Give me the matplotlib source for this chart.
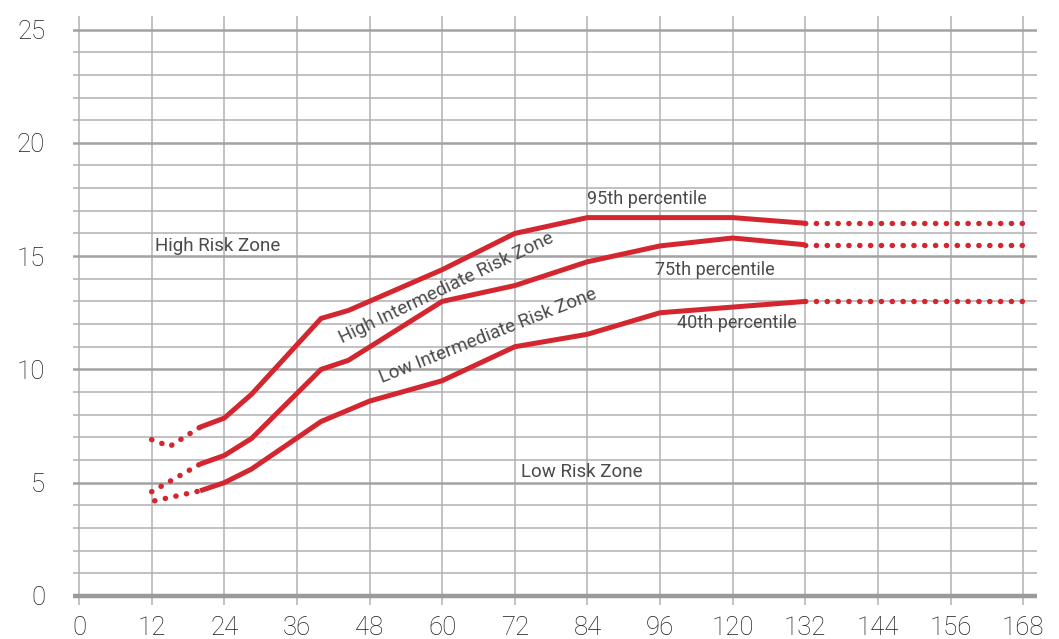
import numpy as np
import matplotlib
matplotlib.use("Agg")
import matplotlib.pyplot as plt

plt.rcParams['font.family'] = ['Roboto', 'DejaVu Sans']

# eje x: 108 no aparece, los ticks quedan equiespaciados
tick_months = [0, 12, 24, 36, 48, 60, 72, 84, 96, 120, 132, 144, 156, 168]

# curvas (meses, valor)
p95_m = [20, 24, 28.5, 40, 44.5, 60, 72, 84, 96, 120, 132]
p95_v = [7.45, 7.85, 8.9, 12.25, 12.6, 14.4, 16.0, 16.7, 16.7, 16.7, 16.45]
p95_dot_m = [12, 15, 20]
p95_dot_v = [6.9, 6.6, 7.45]

p75_m = [20, 24, 28.5, 40, 44.5, 60, 72, 84, 96, 120, 132]
p75_v = [5.82, 6.2, 6.95, 10.0, 10.4, 13.0, 13.7, 14.75, 15.45, 15.8, 15.5]
p75_dot_m = [12, 20]
p75_dot_v = [4.6, 5.82]

p40_m = [20, 24, 28.5, 40, 48, 60, 72, 84, 96, 120, 132]
p40_v = [4.64, 5.0, 5.6, 7.7, 8.6, 9.5, 11.0, 11.55, 12.5, 12.75, 13.0]
p40_dot_m = [12.5, 20]
p40_dot_v = [4.2, 4.64]

tail_m = [132, 168]   # prolongación punteada

red = "#d4262f"
txt = "#4a4a4a"


def pos(m):
    return np.interp(m, tick_months, np.arange(len(tick_months)))


fig = plt.figure(figsize=(10.59, 6.39), dpi=100)
ax = fig.add_axes([0.0689, 0.0532, 0.9103, 0.9218])

# grilla
for v in range(0, 26):
    if v == 0:
        ax.axhline(v, color="#9a9a9c", lw=3.2, zorder=1)
    elif v % 5 == 0:
        ax.axhline(v, color="#a2a2a4", lw=1.8, zorder=1)
    else:
        ax.axhline(v, color="#b0b0b2", lw=1.1, zorder=1)
for i in range(len(tick_months)):
    ax.axvline(i, color="#bdbdbf", lw=1.3, zorder=0.9)

solid = dict(color=red, lw=3.6, solid_capstyle="butt", solid_joinstyle="miter", zorder=3)
dotted = dict(color=red, lw=3.9, linestyle=(0, (0.05, 1.95)), dash_capstyle="round", zorder=3)

for m, v, dm, dv in [(p95_m, p95_v, p95_dot_m, p95_dot_v),
                     (p75_m, p75_v, p75_dot_m, p75_dot_v),
                     (p40_m, p40_v, p40_dot_m, p40_dot_v)]:
    ax.plot(pos(m), v, **solid)
    ax.plot(pos(dm), dv, **dotted)
    ax.plot(pos(tail_m), [v[-1], v[-1]], **dotted)

# textos
fs = 13.5
fp = 13
kw = dict(color=txt, fontweight="normal", va="center")
ax.text(1.05, 15.45, "High Risk Zone", fontsize=fs, ha="left", **kw)
ax.text(6.09, 5.45, "Low Risk Zone", fontsize=fs, ha="left", **kw)
ax.text(7.82, 17.5, "95th percentile", fontsize=fp, ha="center", **kw)
ax.text(7.93, 14.4, "75th percentile", fontsize=fp, ha="left", **kw)
ax.text(8.24, 12.05, "40th percentile", fontsize=fp, ha="left", **kw)
ax.text(5.06, 13.6, "High Intermediate Risk Zone", fontsize=fs, ha="center",
        rotation=25.6, rotation_mode="anchor", **kw)
ax.text(5.63, 11.5, "Low Intermediate Risk Zone", fontsize=fs, ha="center",
        rotation=21.5, rotation_mode="anchor", **kw)

ax.set_xlim(-0.083, 13.19)
ax.set_ylim(-0.4, 25.6)
ax.set_xticks(np.arange(len(tick_months)))
ax.set_xticklabels([str(m) for m in tick_months])
ax.set_yticks([0, 5, 10, 15, 20, 25])
ax.tick_params(axis="x", length=0, pad=8, labelsize=18.5, labelcolor="#1c1c1c")
ax.tick_params(axis="y", length=0, pad=20, labelsize=18.5, labelcolor="#1c1c1c")
for lab in ax.get_xticklabels() + ax.get_yticklabels():
    lab.set_fontweight("light")
for s in ax.spines.values():
    s.set_visible(False)

fig.savefig("out.png", dpi=100)
